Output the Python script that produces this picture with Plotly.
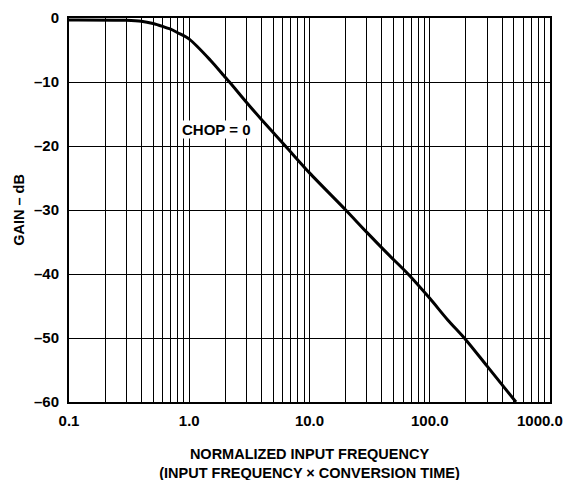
import math
import plotly.graph_objects as go

# Normalized input frequency and gain (dB)
freq = [0.1, 0.3, 0.4, 0.5, 0.6, 0.7, 0.8, 1.0, 1.5, 2.0, 2.16, 3.0, 4.0, 6.3, 10.0, 20.0, 30.0, 45.0, 66.0, 100.0, 140.0, 200.0, 300.0, 521.0]
gain = [-0.3, -0.35, -0.5, -0.85, -1.3, -1.75, -2.3, -3.3, -6.6, -9.3, -10.0, -13.2, -15.9, -20.0, -24.2, -30.0, -33.5, -36.9, -40.0, -43.8, -47.1, -50.3, -54.4, -60.0]

x_major = [0.1, 1.0, 10.0, 100.0, 1000.0]
x_major_text = ["0.1", "1.0", "10.0", "100.0", "1000.0"]
y_ticks = [0, -10, -20, -30, -40, -50, -60]
y_tick_text = ["0", "\u201310", "\u201320", "\u201330", "\u201340", "\u201350", "\u201360"]

label_text = "CHOP = 0"
label_x = 1.69
label_y = -17.4

# build tick positions (1..9 per decade) from the major decades;
# the last decade label is drawn as an annotation so it is not clipped
x_tickvals = []
x_ticktext = []
for i, d in enumerate(x_major):
    if i < len(x_major) - 1:
        for m in range(1, 10):
            x_tickvals.append(round(d * m, 6))
            x_ticktext.append(x_major_text[i] if m == 1 else "")
    else:
        x_tickvals.append(d)
        x_ticktext.append("")

font_family = "Liberation Sans, Arial, sans-serif"
tick_size = 15
title_size = 14.5

fig = go.Figure()
fig.add_trace(go.Scatter(x=freq, y=gain, mode="lines",
                         line=dict(color="black", width=3, shape="spline", smoothing=0.8),
                         showlegend=False, hoverinfo="skip"))

fig.add_annotation(x=math.log10(label_x), y=label_y, xref="x", yref="y", text=label_text,
                   showarrow=False, font=dict(family=font_family, size=tick_size, color="black", weight="bold"),
                   bgcolor="white", borderpad=0)

# last x tick label (right-aligned to stay inside the page)
fig.add_annotation(x=math.log10(x_major[-1]), y=0, xref="x", yref="paper", text=x_major_text[-1],
                   showarrow=False, xanchor="right", yanchor="middle", xshift=15, yshift=-18.5,
                   font=dict(family=font_family, size=tick_size, color="black", weight="bold"))

fig.update_xaxes(type="log", range=[-1, 3], tickvals=x_tickvals, ticktext=x_ticktext,
                 showgrid=True, gridcolor="black", gridwidth=1.2,
                 showline=True, linecolor="black", linewidth=2, mirror=True,
                 ticks="", zeroline=False, ticklabelstandoff=4,
                 tickfont=dict(family=font_family, size=tick_size, color="black", weight="bold"),
                 title=dict(text="NORMALIZED INPUT FREQUENCY<br>(INPUT FREQUENCY \u00d7 CONVERSION TIME)",
                            font=dict(family=font_family, size=title_size, color="black", weight="bold"),
                            standoff=21))
fig.update_yaxes(range=[-60, 0], tickvals=y_ticks, ticktext=y_tick_text,
                 showgrid=True, gridcolor="black", gridwidth=1.2,
                 showline=True, linecolor="black", linewidth=2, mirror=True,
                 ticks="", zeroline=False, ticklabelstandoff=5,
                 tickfont=dict(family=font_family, size=tick_size, color="black", weight="bold"),
                 title=dict(text="GAIN \u2013 dB",
                            font=dict(family=font_family, size=title_size, color="black", weight="bold"),
                            standoff=6))

fig.update_layout(width=574, height=480, plot_bgcolor="white", paper_bgcolor="white",
                  margin=dict(l=61, r=32, t=10, b=86, autoexpand=False))

fig.write_html("out.html")
